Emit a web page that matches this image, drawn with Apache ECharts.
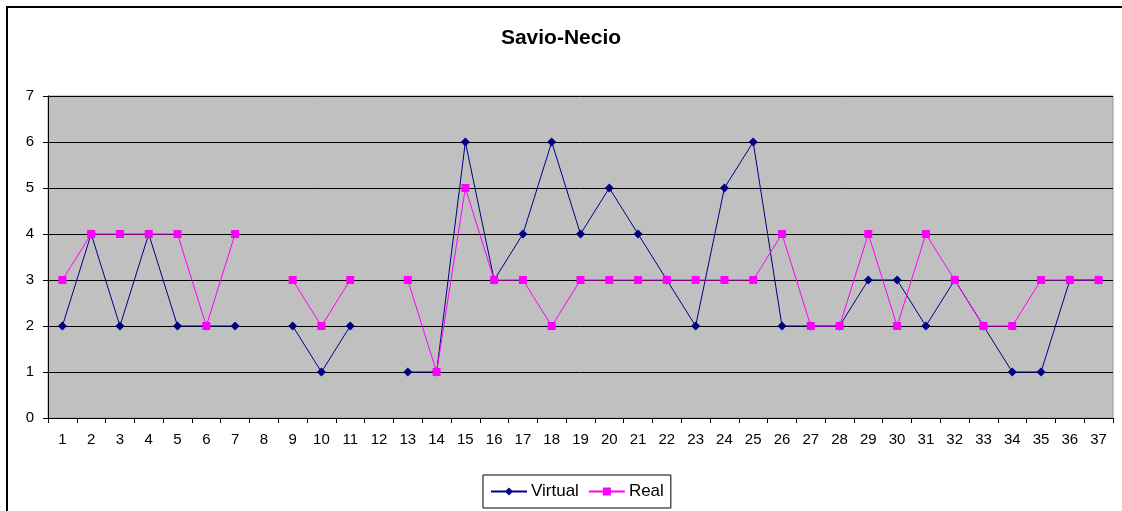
<!DOCTYPE html>
<html>
<head>
<meta charset="utf-8">
<title>Savio-Necio</title>
<script src="https://cdn.jsdelivr.net/npm/echarts@6/dist/echarts.min.js"></script>
<style>
  html, body { margin: 0; padding: 0; background: #fff; }
  #chart { width: 1122px; height: 511px; }
</style>
</head>
<body>
<div id="chart"></div>
<script>
// data
const categories = ['1','2','3','4','5','6','7','8','9','10','11','12','13','14','15','16','17','18','19',
  '20','21','22','23','24','25','26','27','28','29','30','31','32','33','34','35','36','37']
const virtualValues = [2, 4, 2, 4, 2, 2, 2, null, 2, 1, 2, null, 1, 1, 6, 3, 4, 6, 4,
  5, 4, 3, 2, 5, 6, 2, 2, 2, 3, 3, 2, 3, 2, 1, 1, 3, 3]
const realValues = [3, 4, 4, 4, 4, 2, 4, null, 3, 2, 3, null, 3, 1, 5, 3, 3, 2, 3,
  3, 3, 3, 3, 3, 3, 4, 2, 2, 4, 2, 4, 3, 2, 2, 3, 3, 3]
const yTicks = [0, 1, 2, 3, 4, 5, 6, 7]

const font = 'Liberation Sans, Arial, sans-serif'

const myChart = echarts.init(document.getElementById('chart'))
myChart.setOption({
  animation: false,
  backgroundColor: '#fff',
  textStyle: { fontFamily: font },
  title: {
    text: 'Savio-Necio',
    left: 'center',
    top: 23,
    textStyle: { fontFamily: font, fontSize: 21, fontWeight: 'bold', color: '#000' }
  },
  graphic: [
    // outer chart frame
    { type: 'rect', shape: { x: 7, y: 7, width: 1140, height: 540 },
      style: { fill: 'none', stroke: '#000', lineWidth: 2 }, z: 100 }
  ],
  legend: {
    bottom: 3,
    left: 483,
    itemGap: 9,
    itemWidth: 36,
    itemHeight: 10,
    padding: [8, 7, 8, 7],
    borderColor: '#000',
    borderWidth: 1,
    borderRadius: 0,
    textStyle: { fontFamily: font, fontSize: 17, color: '#000', padding: [0, 0, 0, -1] },
    data: ['Virtual', 'Real']
  },
  grid: {
    left: 48,
    right: 9,
    top: 96,
    bottom: 93,
    show: true,
    backgroundColor: '#c0c0c0',
    borderColor: '#999',
    borderWidth: 1
  },
  xAxis: {
    type: 'category',
    data: categories,
    boundaryGap: true,
    axisLine: { lineStyle: { color: '#000', width: 1 } },
    axisTick: { show: true, alignWithLabel: false, length: 5, lineStyle: { color: '#000' } },
    axisLabel: { interval: 0, color: '#000', fontSize: 15, margin: 14, fontFamily: font }
  },
  yAxis: {
    type: 'value',
    min: yTicks[0],
    max: yTicks[yTicks.length - 1],
    interval: 1,
    axisLine: { show: true, lineStyle: { color: '#000', width: 1 } },
    axisTick: { show: true, length: 5, lineStyle: { color: '#000' } },
    axisLabel: { color: '#000', fontSize: 15, margin: 14, fontFamily: font },
    splitLine: { lineStyle: { color: '#000', width: 1 } }
  },
  series: [
    {
      name: 'Virtual',
      type: 'line',
      data: virtualValues,
      connectNulls: false,
      symbol: 'diamond',
      symbolSize: 9,
      itemStyle: { color: '#000080' },
      lineStyle: { color: '#000080', width: 1 },
      z: 3
    },
    {
      name: 'Real',
      type: 'line',
      data: realValues,
      connectNulls: false,
      symbol: 'rect',
      symbolSize: 8,
      itemStyle: { color: '#ff00ff' },
      lineStyle: { color: '#ff00ff', width: 1 },
      z: 4
    }
  ]
})
</script>
</body>
</html>
